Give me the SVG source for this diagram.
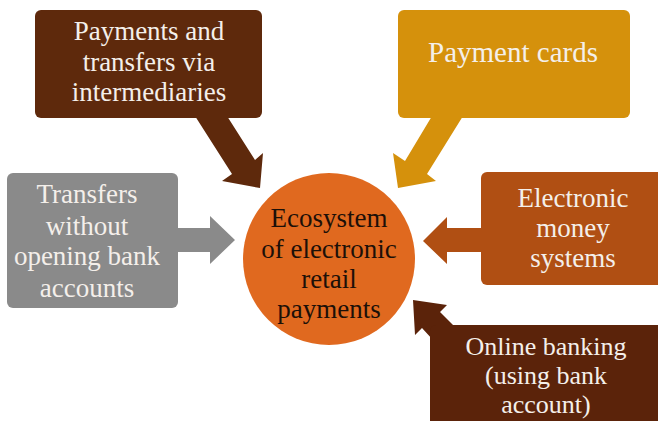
<svg xmlns="http://www.w3.org/2000/svg" width="658" height="421" viewBox="0 0 658 421">
<style>
.t{font-family:"Liberation Serif","Times New Roman",serif;text-anchor:middle;fill:#f4efea}
.c{font-family:"Liberation Serif","Times New Roman",serif;text-anchor:middle;fill:#1c1008}
</style>
<rect width="658" height="421" fill="#ffffff"/>
<g id="connectors">
<polygon fill="#5E290C" points="195,116 227,116 255,160 263,153 260,188 222,181 232,174"/>
<polygon fill="#D5910C" points="432,116 463,116 427,174 436,181 398,188 393,153 405,161"/>
<polygon fill="#8A8A8A" points="176,228 210,228 210,216 235,240 210,264 210,252 176,252"/>
<polygon fill="#B04F13" points="484,228 447,228 447,217 423,241 447,264 447,252 484,252"/>
<polygon fill="#5B230A" points="413,300 447,305 440,312 462,334 444,352 422,328 415,335"/>
</g>
<g id="center">
<circle cx="329" cy="259" r="86" fill="#E0691F"/>
<text class="c" font-size="27" x="329" y="227">Ecosystem</text>
<text class="c" font-size="27" x="329" y="258">of electronic</text>
<text class="c" font-size="27" x="329" y="288">retail</text>
<text class="c" font-size="27" x="329" y="318">payments</text>
</g>
<g id="intermediaries">
<rect x="35" y="10" width="227" height="108" rx="6" fill="#5E290C"/>
<text class="t" font-size="27" x="149" y="40">Payments and</text>
<text class="t" font-size="27" x="149" y="71">transfers via</text>
<text class="t" font-size="27" x="149" y="101">intermediaries</text>
</g>
<g id="cards">
<rect x="398" y="10" width="232" height="108" rx="6" fill="#D5910C"/>
<text class="t" font-size="29" x="513" y="62">Payment cards</text>
</g>
<g id="transfers">
<rect x="7" y="173" width="171" height="135" rx="6" fill="#8A8A8A"/>
<text class="t" font-size="27" x="87" y="203">Transfers</text>
<text class="t" font-size="27" x="87" y="235">without</text>
<text class="t" font-size="27" x="87" y="265">opening bank</text>
<text class="t" font-size="27" x="87" y="297">accounts</text>
</g>
<g id="emoney">
<rect x="481" y="172" width="185" height="113" rx="6" fill="#B04F13"/>
<text class="t" font-size="27" x="573" y="207">Electronic</text>
<text class="t" font-size="27" x="573" y="237">money</text>
<text class="t" font-size="27" x="573" y="267">systems</text>
</g>
<g id="online">
<rect x="430" y="325" width="236" height="110" rx="6" fill="#5B230A"/>
<text class="t" font-size="26" x="546" y="355">Online banking</text>
<text class="t" font-size="26" x="546" y="384">(using bank</text>
<text class="t" font-size="26" x="546" y="413">account)</text>
</g>
</svg>
